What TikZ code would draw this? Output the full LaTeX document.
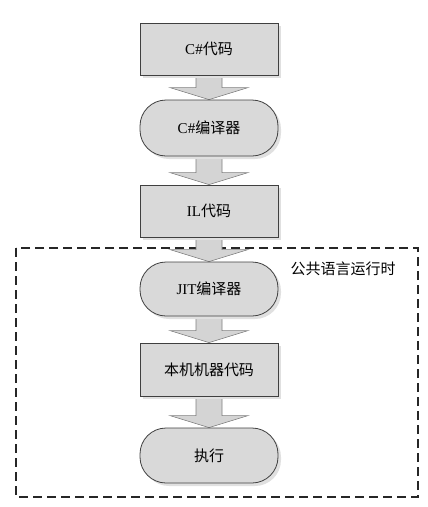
\documentclass[tikz,border=0pt]{standalone}
\usepackage{fontspec}
\setmainfont{Liberation Serif}
\newfontfamily\cjk{Noto Sans CJK SC}
\usetikzlibrary{shadows,calc,backgrounds}
\tikzset{
  boxbase/.style={draw=black!75, fill=black!15, line width=0.8pt,
    minimum width=138pt, inner sep=0pt, font=\fontsize{15}{18}\selectfont,
    drop shadow={shadow xshift=3pt, shadow yshift=-3pt, fill=black!12, opacity=1}},
  procbox/.style={boxbase, rectangle},
  termbox/.style={boxbase, rectangle, rounded corners=26pt},
  blockarrow/.style={draw=black!50, fill=black!17, line width=0.6pt, line join=miter},
  regionbox/.style={draw=black!85, line width=1.3pt, dash pattern=on 9pt off 5pt},
  regionlabel/.style={font=\fontsize{15}{18}\selectfont, inner sep=0pt}
}
\newcommand\flowarrow[2]{%
  \draw[blockarrow] ($(#1.south)+(-13,0)$) -- ($(#1.south)+(13,0)$)
    -- ($(#2.north)+(13,-12)$) -- ($(#2.north)+(39,-12)$) -- (#2.north)
    -- ($(#2.north)+(-39,-12)$) -- ($(#2.north)+(-13,-12)$) -- cycle;}
\begin{document}
\begin{tikzpicture}[x=1pt,y=-1pt]
\useasboundingbox (0,0) rectangle (428,507);
\node[procbox, minimum height=52pt] (csrc) at (209,49) {C\#{\cjk 代码}};
\node[termbox, minimum height=56pt] (ccomp) at (209,128) {C\#{\cjk 编译器}};
\node[procbox, minimum height=52pt] (il) at (209,211) {IL{\cjk 代码}};
\node[termbox, minimum height=54pt] (jit) at (209,289) {JIT{\cjk 编译器}};
\node[procbox, minimum height=53pt] (native) at (209,369.5) {\cjk 本机机器代码};
\node[termbox, minimum height=55pt] (run) at (209,455.5) {\cjk 执行};
\node[regionlabel] (clr) at (343,269) {\cjk 公共语言运行时};
\begin{pgfonlayer}{background}
\draw[regionbox] (16,248) rectangle (418,497);
\flowarrow{csrc}{ccomp}
\flowarrow{ccomp}{il}
\flowarrow{il}{jit}
\flowarrow{jit}{native}
\flowarrow{native}{run}
\end{pgfonlayer}
\end{tikzpicture}
\end{document}
